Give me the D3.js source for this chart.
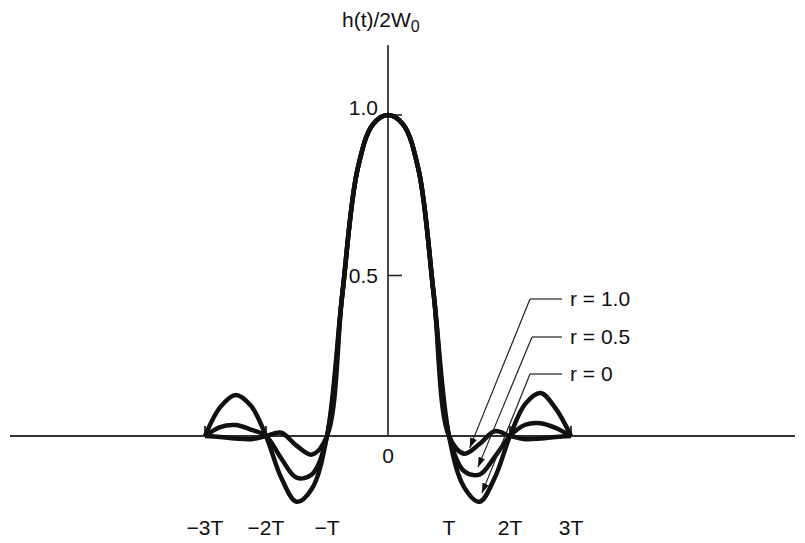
<!DOCTYPE html>
<html lang="en">
<head>
<meta charset="UTF-8">
<script src="https://cdn.jsdelivr.net/npm/d3@7"></script>
<title>h(t)/2W0</title>
<style>
    body { margin:0; background:#fff; }
    svg text { font-family:"Liberation Sans", Arial, sans-serif; font-size:21px; fill:#111; }
</style>
</head>
<body>
<script>
// time in units of T
let tVals = [-3,-2.75,-2.5,-2.25,-2,-1.75,-1.5,-1.25,-1,-0.75,-0.5,-0.25,0,
             0.25,0.5,0.75,1,1.25,1.5,1.75,2,2.25,2.5,2.75,3];
// r = 0
let r0 = [0,0.09,0.128,0.095,0,-0.13,-0.205,-0.165,0,0.44,0.83,0.97,1,
          0.97,0.83,0.44,0,-0.16,-0.205,-0.13,0,0.1,0.134,0.085,0];
// r = 0.5
let r05 = [0,0.028,0.034,0.02,0,-0.07,-0.13,-0.12,0,0.44,0.83,0.97,1,
           0.97,0.83,0.44,0,-0.11,-0.12,-0.065,0,0.035,0.04,0.025,0];
// r = 1.0
let r1 = [0,-0.003,-0.008,-0.01,0,0.01,-0.03,-0.058,0,0.44,0.83,0.97,1,
          0.97,0.83,0.44,0,-0.055,-0.025,0.015,0,-0.01,-0.008,-0.003,0];

let xTicks = [-3,-2,-1,1,2,3];
let xTickLabels = ["\u22123T","\u22122T","\u2212T","T","2T","3T"];
let yTicks = [0.5,1.0];
let yTickLabels = ["0.5","1.0"];
let legendLabels = ["r = 1.0","r = 0.5","r = 0"];
// where each legend arrow points (t, h)
let arrowT = [1.34,1.475,1.54];
let arrowH = [-0.037,-0.097,-0.178];

var width = 805, height = 543;
var svg = d3.select("body").append("svg")
    .attr("width", width).attr("height", height);

var x = d3.scaleLinear().domain([-3,3]).range([205,571]);
var y = d3.scaleLinear().domain([0,1]).range([436,115]);

// axes
svg.append("line").attr("x1",10).attr("x2",795)
    .attr("y1",y(0)).attr("y2",y(0))
    .attr("stroke","#333").attr("stroke-width",2);
svg.append("line").attr("x1",x(0)).attr("x2",x(0))
    .attr("y1",45).attr("y2",y(0))
    .attr("stroke","#333").attr("stroke-width",1.8);

svg.selectAll(".xt").data(xTicks).enter().append("line")
    .attr("x1",d=>x(d)).attr("x2",d=>x(d))
    .attr("y1",y(0)).attr("y2",y(0)-10)
    .attr("stroke","#222").attr("stroke-width",1.8);
svg.selectAll(".xl").data(xTicks).enter().append("text")
    .attr("x",d=>x(d)).attr("y",535)
    .attr("text-anchor","middle")
    .text((d,i)=>xTickLabels[i]);
svg.append("text").attr("x",x(0)).attr("y",463)
    .attr("text-anchor","middle").text("0");

svg.selectAll(".yt").data(yTicks).enter().append("line")
    .attr("x1",x(0)).attr("x2",x(0)+14)
    .attr("y1",d=>y(d)).attr("y2",d=>y(d))
    .attr("stroke","#222").attr("stroke-width",1.6);
svg.selectAll(".yl").data(yTicks).enter().append("text")
    .attr("x",378).attr("y",d=>y(d)+(d==1?0:7))
    .attr("text-anchor","end")
    .text((d,i)=>yTickLabels[i]);

var title = svg.append("text").attr("x",342).attr("y",27);
title.append("tspan").text("h(t)/2W");
title.append("tspan").attr("dy",5).style("font-size","16px").text("0");

// curves
var line = d3.line()
    .x((d,i)=>x(tVals[i]))
    .y(d=>y(d))
    .curve(d3.curveCatmullRom.alpha(0.5));
[r0,r05,r1].forEach(function(s){
    svg.append("path").datum(s).attr("d",line)
        .attr("fill","none").attr("stroke","#111")
        .attr("stroke-width",4.5).attr("stroke-linejoin","round");
});

// legend leaders with arrows
svg.append("defs").append("marker")
    .attr("id","arr").attr("viewBox","0 -4 10 8")
    .attr("refX",10).attr("refY",0)
    .attr("markerWidth",10).attr("markerHeight",8)
    .attr("markerUnits","userSpaceOnUse")
    .attr("orient","auto")
    .append("path").attr("d","M0,-3.5L10,0L0,3.5Z").attr("fill","#111");

var legY = [299,337,374];
legendLabels.forEach(function(lab,i){
    var sx = 530 + (i==1?2:0);
    svg.append("line").attr("x1",562).attr("x2",sx)
        .attr("y1",legY[i]).attr("y2",legY[i])
        .attr("stroke","#222").attr("stroke-width",1.2);
    svg.append("line").attr("x1",sx).attr("y1",legY[i])
        .attr("x2",x(arrowT[i])).attr("y2",y(arrowH[i]))
        .attr("stroke","#222").attr("stroke-width",1.2)
        .attr("marker-end","url(#arr)");
    svg.append("text").attr("x",570).attr("y",legY[i]+7).text(lab);
});
</script>
</body>
</html>
